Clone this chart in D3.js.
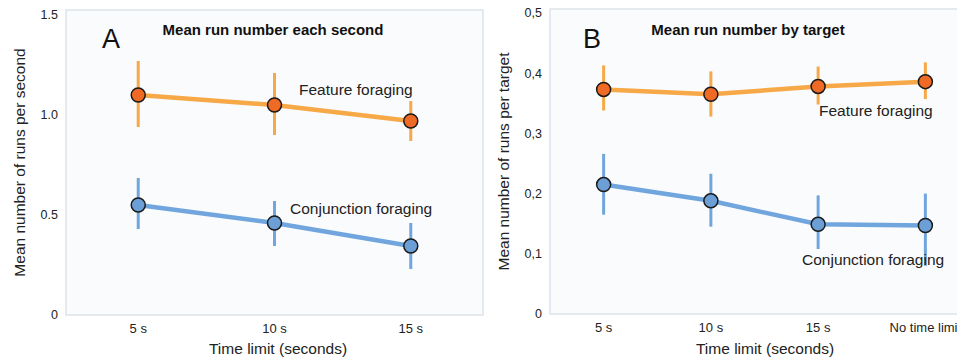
<!DOCTYPE html>
<html>
<head>
<meta charset="utf-8">
<script src="https://cdn.jsdelivr.net/npm/d3@7"></script>
<style>
  body { margin: 0; background: #fff; }
  svg { display: block; font-family: "Liberation Sans", Arial, sans-serif; }
  .frame { fill: #fafbfd; stroke: #dde3ea; stroke-width: 1.5; }
  .tick-label { font-size: 13px; fill: #222; }
  .y-tick-label { font-size: 12.5px; fill: #222; }
  .axis-title { font-size: 15.5px; fill: #222; }
  .chart-title { font-size: 15px; font-weight: bold; fill: #111; }
  .panel-letter { font-size: 27px; fill: #111; }
  .series-label { font-size: 15.5px; fill: #222; }
</style>
</head>
<body>
<svg id="chart" width="957" height="360"></svg>
<script>
// Panel A: mean runs per second
const categoriesA = ["5 s", "10 s", "15 s"];
const featureA = [1.10, 1.05, 0.97];
const featureALow = [0.94, 0.90, 0.87];
const featureAHigh = [1.27, 1.21, 1.07];
const conjA = [0.55, 0.46, 0.345];
const conjALow = [0.43, 0.345, 0.23];
const conjAHigh = [0.685, 0.57, 0.46];
const ticksA = [0, 0.5, 1.0, 1.5];

// Panel B: mean runs per target
const categoriesB = ["5 s", "10 s", "15 s", "No time limit"];
const featureB = [0.373, 0.365, 0.378, 0.386];
const featureBLow = [0.338, 0.328, 0.348, 0.357];
const featureBHigh = [0.413, 0.403, 0.411, 0.418];
const conjB = [0.215, 0.188, 0.149, 0.147];
const conjBLow = [0.165, 0.145, 0.108, 0.08];
const conjBHigh = [0.266, 0.233, 0.197, 0.2];
const ticksB = [0, 0.1, 0.2, 0.3, 0.4, 0.5];

const COLORS = {
  feature: { line: "#f7a847", dot: "#ee6a25" },
  conj: { line: "#70a6dd", dot: "#6b9fd6" }
};

const svg = d3.select("#chart");

function series(cats, mean, low, high) {
  return cats.map((c, i) => ({ cat: c, v: mean[i], lo: low[i], hi: high[i] }));
}

function drawPanel(cfg) {
  const g = svg.append("g");
  const x = d3.scalePoint().domain(cfg.categories).range([cfg.left, cfg.right]).padding(cfg.padding);
  const y = d3.scaleLinear().domain([0, cfg.yMax]).range([cfg.bottom, cfg.top + cfg.topPad]);

  g.append("rect")
    .attr("class", "frame")
    .attr("x", cfg.left)
    .attr("y", cfg.top)
    .attr("width", cfg.right - cfg.left)
    .attr("height", cfg.bottom - cfg.top);

  g.selectAll(".y-tick")
    .data(cfg.ticks)
    .join("text")
    .attr("class", "y-tick-label")
    .attr("text-anchor", "end")
    .attr("dy", "0.35em")
    .attr("x", cfg.left - 8)
    .attr("y", (d) => y(d))
    .text((d) => (d === 0 ? "0" : cfg.format(d)));

  g.selectAll(".x-tick")
    .data(cfg.categories)
    .join("text")
    .attr("class", "tick-label")
    .attr("text-anchor", "middle")
    .attr("x", (d) => x(d))
    .attr("y", cfg.bottom + 18)
    .text((d) => d);

  g.append("text")
    .attr("class", "axis-title")
    .attr("text-anchor", "middle")
    .attr("x", cfg.xTitleX)
    .attr("y", 354)
    .text("Time limit (seconds)");

  g.append("text")
    .attr("class", "axis-title")
    .attr("text-anchor", "middle")
    .attr("transform", `translate(${cfg.yTitleX},${(cfg.top + cfg.bottom) / 2}) rotate(-90)`)
    .text(cfg.yTitle);

  g.append("text")
    .attr("class", "chart-title")
    .attr("text-anchor", "middle")
    .attr("x", cfg.titleX)
    .attr("y", 35)
    .text(cfg.title);

  g.append("text")
    .attr("class", "panel-letter")
    .attr("x", cfg.letterX)
    .attr("y", 48)
    .text(cfg.letter);

  const line = d3.line().x((d) => x(d.cat)).y((d) => y(d.v));

  cfg.series.forEach((s) => {
    const sg = g.append("g");
    sg.selectAll(".err")
      .data(s.data)
      .join("line")
      .attr("x1", (d) => x(d.cat))
      .attr("x2", (d) => x(d.cat))
      .attr("y1", (d) => y(d.lo))
      .attr("y2", (d) => y(d.hi))
      .attr("stroke", s.color.line)
      .attr("stroke-width", 3);
    sg.append("path")
      .datum(s.data)
      .attr("d", line)
      .attr("fill", "none")
      .attr("stroke", s.color.line)
      .attr("stroke-width", 4.5);
    sg.selectAll(".dot")
      .data(s.data)
      .join("circle")
      .attr("cx", (d) => x(d.cat))
      .attr("cy", (d) => y(d.v))
      .attr("r", 7)
      .attr("fill", s.color.dot)
      .attr("stroke", "#1a1a1a")
      .attr("stroke-width", 1.5);
    sg.append("text")
      .attr("class", "series-label")
      .attr("x", s.labelX)
      .attr("y", s.labelY)
      .text(s.label);
  });
}

const commaFmt = (d) => d3.format(".1f")(d).replace(".", ",");

drawPanel({
  categories: categoriesA,
  left: 66, right: 483, top: 10, bottom: 315, topPad: 5, padding: 0.53,
  yMax: 1.5, ticks: ticksA, format: d3.format(".1f"),
  yTitle: "Mean number of runs per second", yTitleX: 25, xTitleX: 278,
  title: "Mean run number each second", titleX: 273,
  letter: "A", letterX: 102,
  series: [
    { data: series(categoriesA, featureA, featureALow, featureAHigh), color: COLORS.feature,
      label: "Feature foraging", labelX: 299, labelY: 95 },
    { data: series(categoriesA, conjA, conjALow, conjAHigh), color: COLORS.conj,
      label: "Conjunction foraging", labelX: 290, labelY: 214 }
  ]
});

drawPanel({
  categories: categoriesB,
  left: 550, right: 979, top: 9, bottom: 314, topPad: 4, padding: 0.5,
  yMax: 0.5, ticks: ticksB, format: commaFmt,
  yTitle: "Mean number of runs per target", yTitleX: 509, xTitleX: 765,
  title: "Mean run number by target", titleX: 748,
  letter: "B", letterX: 583,
  series: [
    { data: series(categoriesB, featureB, featureBLow, featureBHigh), color: COLORS.feature,
      label: "Feature foraging", labelX: 819, labelY: 116 },
    { data: series(categoriesB, conjB, conjBLow, conjBHigh), color: COLORS.conj,
      label: "Conjunction foraging", labelX: 802, labelY: 265 }
  ]
});
</script>
</body>
</html>
